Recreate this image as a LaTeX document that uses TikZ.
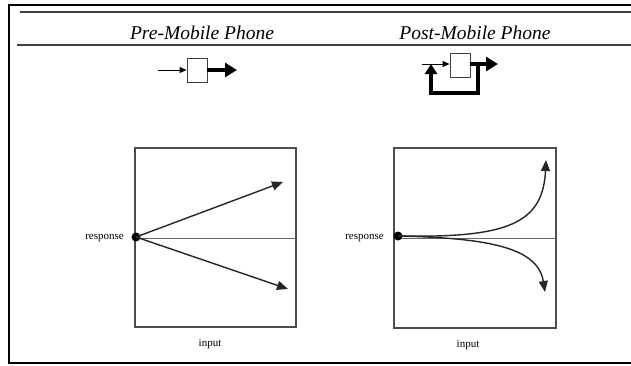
\documentclass[tikz,border=0pt]{standalone}
\usepackage{fontspec}
\setmainfont{Liberation Serif}
\usetikzlibrary{arrows.meta}
\begin{document}
\begin{tikzpicture}[x=1pt,y=-1pt,
  frame/.style={line width=2pt,black},
  rule/.style={line width=1.8pt,black!75},
  heading/.style={font=\fontsize{19.5}{22}\selectfont\itshape,inner sep=0pt},
  blockbox/.style={draw=black!75,line width=0.9pt,fill=white,minimum width=20pt,minimum height=24pt,inner sep=0pt},
  thinarrow/.style={line width=1pt,-{Triangle[length=7pt,width=6pt]}},
  thickarrow/.style={line width=3.8pt,-{Triangle[length=12pt,width=14pt]}},
  plotbox/.style={draw=black!70,line width=1.3pt},
  axisline/.style={draw=black!60,line width=0.8pt},
  resp/.style={line width=1.4pt,black!85,-{Triangle[length=11pt,width=9pt]}},
  dotmark/.style={circle,fill=black,minimum size=9pt,inner sep=0pt},
  axlabel/.style={font=\fontsize{11}{13}\selectfont,inner sep=0pt}]
\useasboundingbox (0,0) rectangle (631,365);
\fill[white] (0,0) rectangle (631,365);

% outer frame, open at the right
\draw[frame] (631,5) -- (9,5) -- (9,363) -- (631,363);
% heading rules
\draw[rule] (20,12) -- (631,12);
\draw[rule] (17,45) -- (631,45);

% headings
\node[heading] (hpre) at (202,33) {Pre-Mobile Phone};
\node[heading] (hpost) at (475,33) {Post-Mobile Phone};

% open-loop block
\node[blockbox] (bpre) at (197,70) {};
\coordinate (preIn) at (158,70);
\coordinate (preOut) at (237,70);
\draw[thinarrow] (preIn) -- (bpre.west);
\draw[thickarrow] (bpre.east) -- (preOut);

% closed-loop block
\node[blockbox] (bpost) at (460,65) {};
\coordinate (postIn) at (422,64);
\coordinate (postOut) at (498,64);
\coordinate (fbTap) at (478,64);
\coordinate (fbJoin) at (431,64);
\draw[thinarrow] (postIn) -- (bpost.west |- postIn);
\draw[thickarrow] (bpost.east |- postOut) -- (postOut);
\draw[line width=3.5pt,-{Triangle[length=10pt,width=12pt]}]
  (fbTap) -- (fbTap |- 0,93) -- (fbJoin |- 0,93) -- (fbJoin);

% linear response plot
\draw[plotbox] (135,148) rectangle (296,327);
\draw[axisline] (135,238) -- (296,238);
\node[dotmark] (dl) at (136,237) {};
\coordinate (lUp) at (283,182);
\coordinate (lDown) at (288,289);
\draw[resp] (dl.center) -- (lUp);
\draw[resp] (dl.center) -- (lDown);
\node[axlabel,anchor=east] (rl) at (124,238) {response};
\node[axlabel] (il) at (210,344) {input};

% exponential response plot
\draw[plotbox] (394,148) rectangle (556,328);
\draw[axisline] (394,238) -- (556,238);
\node[dotmark] (dr) at (398,236) {};
\coordinate (rUp) at (546,160);
\coordinate (rDown) at (545,292);
\draw[resp] (dr.center) .. controls (505,238) and (543,225) .. (rUp);
\draw[resp] (dr.center) .. controls (490,238) and (538,248) .. (rDown);
\node[axlabel,anchor=east] (rr) at (384,238) {response};
\node[axlabel] (ir) at (468,345) {input};
\end{tikzpicture}
\end{document}
